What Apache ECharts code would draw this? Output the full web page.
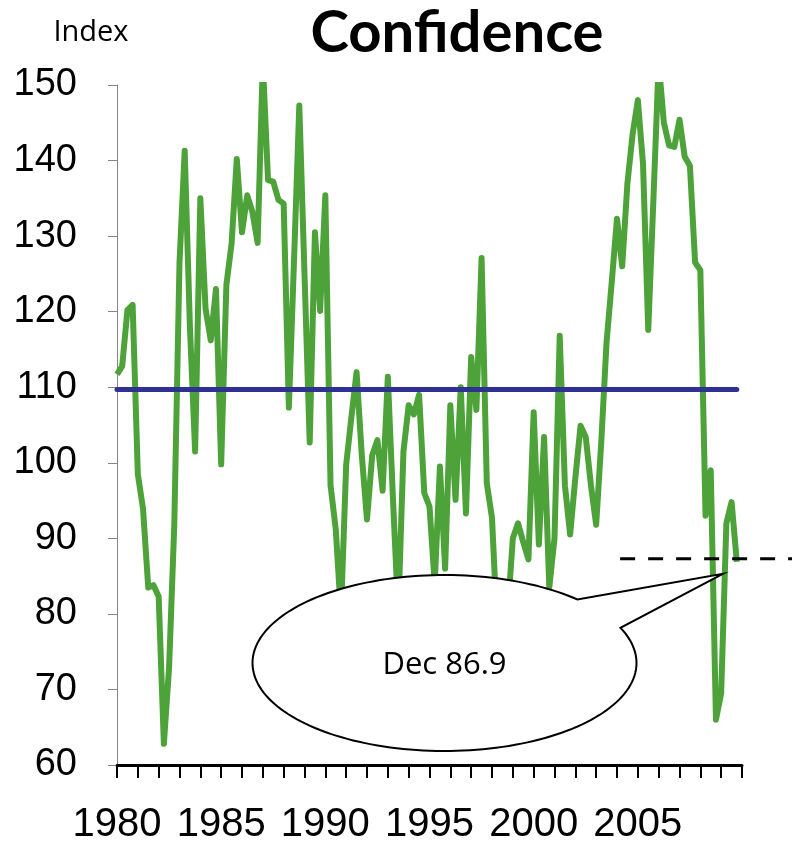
<!DOCTYPE html>
<html>
<head>
<meta charset="utf-8">
<script src="https://cdn.jsdelivr.net/npm/echarts@6.0.0/dist/echarts.min.js"></script>
<style>
html, body { margin: 0; padding: 0; background: #fff; }
#chart { width: 792px; height: 843px; }
</style>
</head>
<body>
<div id="chart"></div>
<script>
// quarterly confidence index, 1980 Q1 - 2009 Q4
const startYear = 1980;
const step = 0.25;
const confidence = [
	111.7, 112.8, 120.2, 120.9, 98.5, 93.9, 83.5, 83.8, 82.3, 62.8,
	72.9, 91.8, 126.5, 141.3, 118, 101.5, 135, 120.4, 116.2, 123,
	99.8, 123.5, 129, 140.2, 130.5, 135.4, 133.2, 129.1, 153, 137.4,
	137.2, 134.8, 134.3, 107.3, 127, 147.3, 125, 102.7, 130.5, 120.1,
	135.4, 97, 91.2, 80, 99.7, 106, 112, 101, 92.5, 101,
	103, 96.3, 111.4, 95, 80, 101.5, 107.6, 106.4, 109, 96,
	94.2, 84, 99.5, 86, 107.6, 95.1, 110, 93.3, 114, 107,
	127.1, 97.3, 92.7, 78, 76, 80, 90, 92, 89.5, 87.2,
	106.7, 89.2, 103.4, 83.5, 90, 116.8, 97, 90.5, 98, 104.9,
	103.4, 97, 91.8, 103, 116, 124, 132.3, 126, 137, 143.5,
	148, 139.5, 117.6, 135, 153, 145, 142, 141.8, 145.4, 140.5,
	139.3, 126.5, 125.5, 93, 99, 66, 69.5, 92, 94.8, 86.9
];
const average = 109.7;
const xLabels = [1980, 1985, 1990, 1995, 2000, 2005];
const calloutText = 'Dec 86.9';

const chart = echarts.init(document.getElementById('chart'));
const lineData = confidence.map((v, i) => [startYear + i * step, v]);
const lastX = startYear + (confidence.length - 1) * step;
const lastVal = confidence[confidence.length - 1];

const option = {
	animation: false,
	grid: {
		left: 117,
		right: 50,
		top: 85,
		bottom: 78,
		containLabel: false,
		outerBoundsMode: 'none'
	},
	xAxis: {
		type: 'value',
		min: 1980,
		max: 2010,
		interval: 1,
		axisLine: {
			show: true,
			onZero: false,
			lineStyle: { color: '#000', width: 3 }
		},
		axisTick: {
			show: true,
			length: 13,
			lineStyle: { color: '#000', width: 2 }
		},
		axisLabel: {
			margin: 40,
			fontSize: 40,
			fontFamily: 'Liberation Sans',
			color: '#000',
			showMinLabel: true,
			showMaxLabel: true,
			formatter: v => (xLabels.indexOf(v) >= 0 ? String(v) : '')
		},
		splitLine: { show: false }
	},
	yAxis: {
		type: 'value',
		min: 60,
		max: 150,
		interval: 10,
		axisLine: {
			show: true,
			lineStyle: { color: '#868686', width: 1 }
		},
		axisTick: {
			show: true,
			length: 9,
			lineStyle: { color: '#868686' }
		},
		axisLabel: {
			margin: 40,
			fontSize: 38,
			fontFamily: 'Liberation Sans',
			color: '#000'
		},
		splitLine: { show: false }
	},
	series: [{
			name: 'Confidence',
			type: 'line',
			data: lineData,
			symbol: 'none',
			clip: true,
			z: 2,
			lineStyle: { color: '#4EA23A', width: 6, join: 'round' }
		},
		{
			name: 'Average',
			type: 'line',
			data: [[startYear, average], [lastX, average]],
			symbol: 'none',
			z: 3,
			lineStyle: { color: '#2E3192', width: 5, cap: 'round' }
		}
	]
};
chart.setOption(option);

// callout + dashed line, placed from data coords
const tip = chart.convertToPixel({ gridIndex: 0 }, [2009.08, 85.3]);
const dashStart = chart.convertToPixel({ gridIndex: 0 }, [2004.15, 87.3]);
const c = chart.convertToPixel({ gridIndex: 0 }, [1995.72, 73.5]);
const rx = 192, ry = 88;
const a0 = -23.6, a1 = 360 - 46.2;
let pts = [];
for (let a = a0; a <= a1; a += 2) {
	const r = a * Math.PI / 180;
	pts.push([c[0] + rx * Math.cos(r), c[1] + ry * Math.sin(r)]);
}
const r1 = a1 * Math.PI / 180;
pts.push([c[0] + rx * Math.cos(r1), c[1] + ry * Math.sin(r1)]);
pts.push(tip);

chart.setOption({
	graphic: [{
			type: 'text',
			x: 457,
			y: 33,
			z: 100,
			style: {
				text: 'Confidence',
				font: 'bold 58px Lato',
				fill: '#000',
				align: 'center',
				verticalAlign: 'middle',
				textAlign: 'center',
				textVerticalAlign: 'middle'
			}
		},
		{
			type: 'text',
			x: 91,
			y: 33,
			z: 100,
			style: {
				text: 'Index',
				font: '29px "Open Sans"',
				fill: '#000',
				align: 'center',
				verticalAlign: 'middle',
				textAlign: 'center',
				textVerticalAlign: 'middle'
			}
		},
		{
			type: 'line',
			z: 100,
			shape: { x1: dashStart[0], y1: dashStart[1], x2: 792, y2: dashStart[1] },
			style: { stroke: '#000', lineWidth: 3, lineDash: [15, 13] }
		},
		{
			type: 'polygon',
			z: 101,
			shape: { points: pts },
			style: { fill: '#fff', stroke: '#000', lineWidth: 2 }
		},
		{
			type: 'text',
			x: c[0],
			y: c[1] + 2,
			z: 102,
			style: {
				text: calloutText,
				font: '31px "Open Sans"',
				fill: '#000',
				align: 'center',
				verticalAlign: 'middle',
				textAlign: 'center',
				textVerticalAlign: 'middle'
			}
		}
	]
});
</script>
</body>
</html>
